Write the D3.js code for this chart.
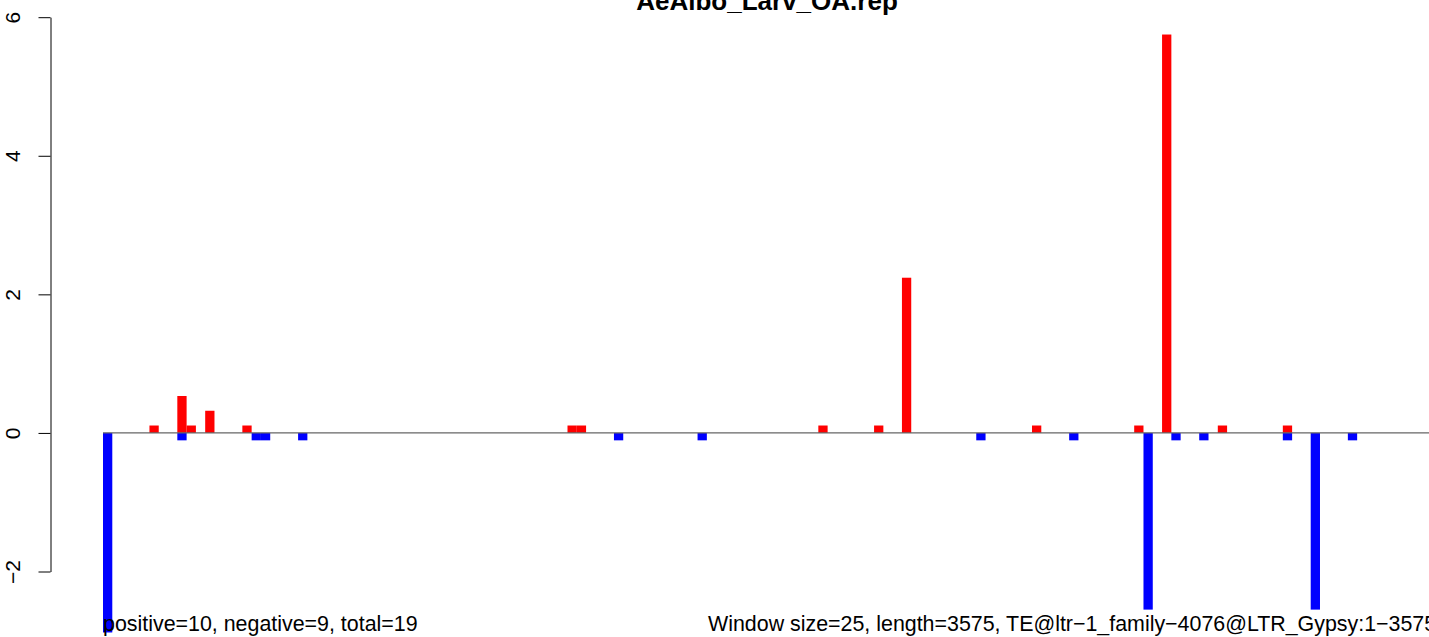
<!DOCTYPE html>
<html>
<head>
<meta charset="utf-8">
<script src="https://cdn.jsdelivr.net/npm/d3@7"></script>
<style>
  html, body { margin: 0; padding: 0; background: #fff; }
  svg { display: block; font-family: "Liberation Sans", Arial, Helvetica, sans-serif; }
</style>
</head>
<body>
<div id="chart"></div>
<script>
const width = 1429;
const height = 637;

const title = "AeAlbo_Larv_OA.rep";
const nWindows = 143; // length 3575 / window 25
const yTicks = [-2, 0, 2, 4, 6];

// window index -> value
const posIndex = [5, 8, 9, 11, 15, 50, 51, 77, 83, 86, 100, 111, 114, 120, 127];
const posValue = [0.107, 0.533, 0.107, 0.320, 0.107, 0.107, 0.107, 0.107, 0.107, 2.24, 0.107, 0.107, 5.75, 0.107, 0.107];
const negIndex = [0, 8, 16, 17, 21, 55, 64, 94, 104, 112, 115, 118, 127, 130, 134];
const negValue = [-2.88, -0.107, -0.107, -0.107, -0.107, -0.107, -0.107, -0.107, -0.107, -2.55, -0.107, -0.107, -0.107, -2.55, -0.107];

const leftNote = "positive=10, negative=9, total=19";
const rightNote = "Window size=25, length=3575, TE@ltr\u22121_family\u22124076@LTR_Gypsy:1\u22123575";

const x = d3.scaleLinear().domain([0, nWindows]).range([103, 103 + nWindows * 9.29]);
const y = d3.scaleLinear().domain([-2, 6]).range([571.5, 17.2]);

const svg = d3.select("#chart").append("svg")
    .attr("width", width)
    .attr("height", height);

const bw = x(1) - x(0);

svg.append("g").selectAll("rect")
    .data(posIndex.map((d, i) => ({ i: d, v: posValue[i] })))
    .enter().append("rect")
    .attr("x", d => x(d.i))
    .attr("width", bw)
    .attr("y", d => y(d.v))
    .attr("height", d => y(0) - y(d.v))
    .attr("fill", "#ff0000");

svg.append("g").selectAll("rect")
    .data(negIndex.map((d, i) => ({ i: d, v: negValue[i] })))
    .enter().append("rect")
    .attr("x", d => x(d.i))
    .attr("width", bw)
    .attr("y", y(0))
    .attr("height", d => y(d.v) - y(0))
    .attr("fill", "#0000ff");

// zero line
svg.append("line")
    .attr("x1", x(0)).attr("x2", width)
    .attr("y1", y(0)).attr("y2", y(0))
    .attr("stroke", "#666")
    .attr("stroke-width", 1.3);

// y axis, R style with rotated labels
const yAxis = svg.append("g")
    .attr("transform", "translate(50.5,0)")
    .call(d3.axisLeft(y).tickValues(yTicks).tickSize(12).tickSizeOuter(0).tickFormat(d => d < 0 ? "\u2212" + Math.abs(d) : d));

yAxis.select(".domain").attr("stroke", "#000");
yAxis.selectAll(".tick line").attr("stroke", "#000");
yAxis.selectAll(".tick text")
    .attr("x", null)
    .attr("dy", null)
    .attr("text-anchor", "middle")
    .attr("transform", "translate(-30.5,0) rotate(-90)")
    .attr("fill", "#000")
    .style("font-size", "21px")
    .style("font-family", "'Liberation Sans', Arial, Helvetica, sans-serif");

svg.append("text")
    .attr("x", 767)
    .attr("y", 10)
    .attr("text-anchor", "middle")
    .style("font-weight", "bold")
    .style("font-size", "26px")
    .text(title);

svg.append("text")
    .attr("x", 103)
    .attr("y", 631)
    .style("font-size", "21.4px")
    .text(leftNote);

svg.append("text")
    .attr("x", 708)
    .attr("y", 631)
    .style("font-size", "21.4px")
    .text(rightNote);
</script>
</body>
</html>
